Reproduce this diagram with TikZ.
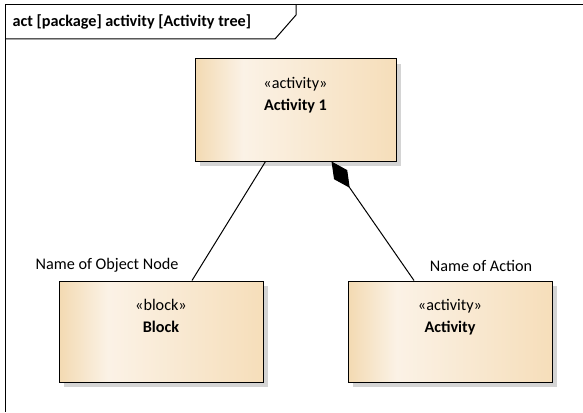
\documentclass[tikz,border=0pt]{standalone}
\usepackage{fontspec}
\setmainfont{Carlito}
\usetikzlibrary{calc,arrows.meta,positioning,shadows}

\definecolor{tanside}{RGB}{243,218,178}
\definecolor{tanlight}{RGB}{251,242,230}
\definecolor{tanright}{RGB}{246,222,186}
\pgfdeclarehorizontalshading{umlfill}{100bp}{color(0bp)=(tanside); color(25bp)=(tanside); color(37bp)=(tanlight); color(75bp)=(tanright); color(100bp)=(tanright)}

\begin{document}
\begin{tikzpicture}[x=1pt,y=-1pt]
	\tikzset{block/.style= {draw, rectangle, line width=1pt, shading=umlfill, minimum width=204pt, minimum height=101pt,
			drop shadow={shadow xshift=5pt, shadow yshift=-5pt, fill=black!17, opacity=1}},
		txt/.style={font=\fontsize{16.2}{22}\selectfont},
		stereo/.style={label={[txt, align=center, anchor=north, yshift=-15pt]north:#1}},
	}
	\useasboundingbox (0,0) rectangle (583,412);

	% frame
	\draw[line width=1pt] (583,5) -- (5,5) -- (5,412);
	\draw[line width=1pt] (5,39) -- (275,39) -- (296,15) -- (296,5);
	\node[txt, anchor=west, font=\fontsize{16.2}{18}\selectfont\bfseries] (title) at (9,22) {act [package] activity [Activity tree]};

	\node [block, minimum width=201pt, minimum height=102pt, stereo={«activity»\\\textbf{Activity 1}}] (act1) at (295.5,110) {};
	\node [block, below=119pt of act1, xshift=-134.5pt, stereo={«block»\\\textbf{Block}}] (blk) {};
	\node [block, right=84pt of blk, stereo={«activity»\\\textbf{Activity}}] (actv) {};

	\node [txt, above=5pt of blk.north, xshift=-54pt] (objname) {Name of Object Node};
	\node [txt, above=5pt of actv.north, xshift=31pt] (actname) {Name of Action};

	\path[draw, line width=1pt]
	([xshift=-30pt]act1.south) -- ([xshift=31pt]blk.north);
	\path[draw, line width=1pt, {Diamond[length=32pt,width=16pt]}-]
	([xshift=36pt]act1.south) -- ([xshift=-36pt]actv.north);
\end{tikzpicture}
\end{document}
